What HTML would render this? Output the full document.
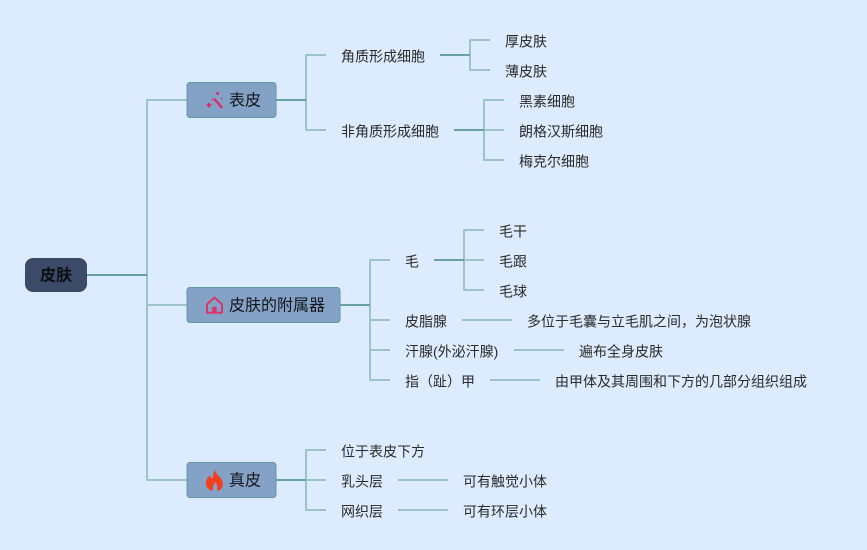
<!DOCTYPE html>
<html lang="zh">
<head>
<meta charset="utf-8">
<style>
html,body{margin:0;padding:0;background:#dcebfd;width:867px;height:550px;overflow:hidden}
svg{display:block}
text{font-family:"Liberation Sans","Noto Sans CJK SC",sans-serif;font-size:14px;fill:#2a2a2a;dominant-baseline:central}
.m{font-size:16px;fill:#14161c}
.l{fill:none;stroke:#9cc3c6;stroke-width:2;stroke-linejoin:round}
.d{fill:none;stroke:#6ba29f;stroke-width:2}
.b{fill:#84a2c6;stroke:#62989e;stroke-width:1}
</style>
</head>
<body>
<svg width="867" height="550" viewBox="0 0 867 550" xmlns="http://www.w3.org/2000/svg">
<rect width="867" height="550" fill="#dcebfd"/>

<!-- root connectors -->
<path class="l" d="M187 100H147V480H187M147 305H187"/>
<path class="d" d="M87 275H147"/>

<!-- epidermis -->
<path class="l" d="M326 55H306V130H326"/>
<path class="d" d="M276 100H306"/>
<path class="l" d="M490 40H470V70H490"/>
<path class="d" d="M440 55H470"/>
<path class="l" d="M504 100H484V160H504M484 130H504"/>
<path class="d" d="M454 130H484"/>

<!-- appendages -->
<path class="l" d="M390 260H370V380H390M370 320H390M370 350H390"/>
<path class="d" d="M340 305H370"/>
<path class="l" d="M484 230H464V290H484M464 260H484"/>
<path class="d" d="M434 260H464"/>
<path class="l" d="M462 320H512M514 350H564M490 380H540"/>

<!-- dermis -->
<path class="l" d="M326 450H306V510H326M306 480H326"/>
<path class="d" d="M276 480H306"/>
<path class="l" d="M398 480H448M398 510H448"/>

<!-- root node -->
<rect x="25" y="258" width="62" height="34" rx="8" fill="#3a4a67"/>
<text x="40" y="276" class="m" style="font-weight:700;fill:#0c0e14">皮肤</text>

<!-- main nodes -->
<rect class="b" x="187" y="82.5" width="89" height="35" rx="3"/>
<rect class="b" x="187" y="287.5" width="153" height="35" rx="3"/>
<rect class="b" x="187" y="462.5" width="89" height="35" rx="3"/>

<!-- wand icon -->
<g fill="#dc2a6c" stroke="none">
<path d="M213.4 99.6L215 98L223 107L221.2 108.8Z"/>
<path d="M209 102l1.1 2 2.2 1.1-2.2 1.1-1.1 2-1.1-2-2.2-1.1 2.2-1.1z"/>
<circle cx="217.7" cy="93.5" r="1.5"/>
<circle cx="221.8" cy="98.5" r="0.9"/>
<circle cx="212.4" cy="99.5" r="0.9"/>
</g>
<text x="229" y="101" class="m">表皮</text>

<!-- home icon -->
<g>
<path d="M207 312.7V304.3L214.4 297.5L222 304.3V312.7Z" fill="none" stroke="#d9366d" stroke-width="2" stroke-linejoin="round"/>
<rect x="212.2" y="306.8" width="4.4" height="6.4" fill="#d9366d"/>
</g>
<text x="229" y="306" class="m">皮肤的附属器</text>

<!-- flame icon -->
<path d="M214.2 469C215.5 473.5 219.2 475.5 221.8 480C224.5 485 221.5 490.8 216.8 490.8C218 487.5 217.5 484.5 215 482C214 484.5 212 487.5 213.2 490.8C208.8 490.8 205.5 487 206 482C206.4 478.5 208.6 476.7 209.8 475.2C210.3 476.8 211 478 212 478.6C213.6 475.8 213.8 472 214.2 469Z" fill="#f2401f"/>
<text x="229" y="481" class="m">真皮</text>

<!-- epidermis text -->
<text x="341" y="56.5">角质形成细胞</text>
<text x="505" y="41.5">厚皮肤</text>
<text x="505" y="71.5">薄皮肤</text>
<text x="341" y="131.5">非角质形成细胞</text>
<text x="519" y="101.5">黑素细胞</text>
<text x="519" y="131.5">朗格汉斯细胞</text>
<text x="519" y="161.5">梅克尔细胞</text>

<!-- appendage text -->
<text x="405" y="261.5">毛</text>
<text x="499" y="231.5">毛干</text>
<text x="499" y="261.5">毛跟</text>
<text x="499" y="291.5">毛球</text>
<text x="405" y="321.5">皮脂腺</text>
<text x="527" y="321.5">多位于毛囊与立毛肌之间，为泡状腺</text>
<text x="405" y="351.5">汗腺(外泌汗腺)</text>
<text x="579" y="351.5">遍布全身皮肤</text>
<text x="405" y="381.5">指（趾）甲</text>
<text x="555" y="381.5">由甲体及其周围和下方的几部分组织组成</text>

<!-- dermis text -->
<text x="341" y="451.5">位于表皮下方</text>
<text x="341" y="481.5">乳头层</text>
<text x="463" y="481.5">可有触觉小体</text>
<text x="341" y="511.5">网织层</text>
<text x="463" y="511.5">可有环层小体</text>
</svg>
</body>
</html>
